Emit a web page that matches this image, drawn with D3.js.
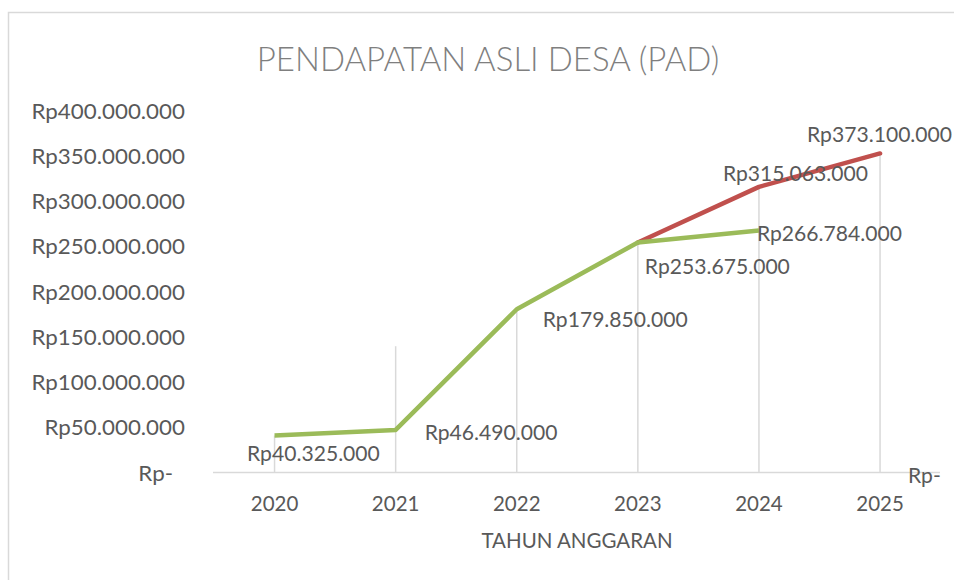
<!DOCTYPE html>
<html>
<head>
<meta charset="utf-8">
<script src="https://cdn.jsdelivr.net/npm/d3@7"></script>
<style>
  html, body { margin: 0; padding: 0; background: #fff; }
  svg { display: block; }
  text { font-family: Lato, "Open Sans", sans-serif; }
</style>
</head>
<body>
<svg id="chart" width="954" height="580"></svg>
<script>
// ---- data ----
const years = ["2020", "2021", "2022", "2023", "2024", "2025"];
const greenValues = [40325000, 46490000, 179850000, 253675000, 266784000, null];
const redValues = [null, null, null, 253675000, 315063000, 352000000];
const greenLabels = ["Rp40.325.000", "Rp46.490.000", "Rp179.850.000", "Rp253.675.000", "Rp266.784.000", null];
const redLabels = [null, null, null, null, "Rp315.063.000", "Rp373.100.000"];
const dropTops = [40325000, 139000000, 179850000, 253675000, 315063000, 352000000];
const yTicks = [0, 50000000, 100000000, 150000000, 200000000, 250000000, 300000000, 350000000, 400000000];
const yTickLabels = ["Rp-", "Rp50.000.000", "Rp100.000.000", "Rp150.000.000", "Rp200.000.000", "Rp250.000.000", "Rp300.000.000", "Rp350.000.000", "Rp400.000.000"];
const zeroLabel = "Rp-";
const titleText = "PENDAPATAN ASLI DESA (PAD)";
const xTitle = "TAHUN ANGGARAN";

// ---- layout / style ----
const SX = 1.03;            // horizontal stretch of small text
const FS = 20.5;
const textColor = "#595959";
const gridColor = "#d9d9d9";
const greenColor = "#9bbb59";
const redColor = "#c0504d";
// label offsets (left edge dx, center dy) relative to point
const greenOffsets = [[-27.5, 17.5], [29, 2], [26, 9], [7, 23.5], [-2, 2.5], null];
const redOffsets = [null, null, null, null, [-36, -14], [-73, -20]];

const svg = d3.select("#chart");

const x = d3.scaleBand().domain(years).range([214, 940.6]);
const y = d3.scaleLinear().domain([0, 400000000]).range([472, 110]);
const cx = d => x(d) + x.bandwidth() / 2;

function stext(g, str, px, py, anchor, opts = {}) {
  const t = g.append("text")
    .attr("transform", `translate(${px},${py}) scale(${opts.sx || SX},1)`)
    .attr("text-anchor", anchor)
    .attr("dominant-baseline", "central")
    .attr("font-size", opts.fs || FS)
    .attr("fill", opts.fill || textColor)
    .text(str);
  if (opts.weight) t.attr("font-weight", opts.weight);
  return t;
}

// chart border
svg.append("path")
  .attr("d", "M8.5,580 V12.5 H954")
  .attr("fill", "none")
  .attr("stroke", gridColor)
  .attr("stroke-width", 1.5);

// title
svg.append("text")
  .attr("x", 488).attr("y", 58)
  .attr("text-anchor", "middle")
  .attr("dominant-baseline", "central")
  .attr("font-size", 33)
  .attr("font-weight", 300)
  .attr("fill", "#7f7f7f")
  .text(titleText);

// drop lines
svg.append("g").selectAll("line")
  .data(years)
  .join("line")
  .attr("x1", d => cx(d)).attr("x2", d => cx(d))
  .attr("y1", (d, i) => y(dropTops[i])).attr("y2", y(0))
  .attr("stroke", gridColor).attr("stroke-width", 1.5);

// x axis line
const xAxis = d3.axisBottom(x).tickSize(0).tickFormat("");
const gx = svg.append("g").attr("transform", `translate(0,${y(0)})`).call(xAxis);
gx.select(".domain").attr("stroke", gridColor).attr("stroke-width", 1.5).attr("d", "M213,0.5H940");

// x tick labels
const gxl = svg.append("g");
years.forEach(d => stext(gxl, d, cx(d), 503, "middle", { sx: 1 }));
stext(gxl, xTitle, 577, 540, "middle", { sx: 1 });

// y axis labels
const yAxis = d3.axisLeft(y).tickValues(yTicks).tickSize(0).tickFormat("");
const gy = svg.append("g").attr("transform", "translate(214,0)").call(yAxis);
gy.select(".domain").remove();
const gyl = svg.append("g");
yTicks.forEach((v, i) => {
  const px = v === 0 ? 173 : 185;
  stext(gyl, yTickLabels[i], px, y(v) + 1, "end", { sx: 1.09 });
});

// lines
const line = d3.line()
  .defined(d => d.v !== null)
  .x(d => cx(d.year))
  .y(d => y(d.v));

svg.append("path")
  .datum(years.map((yr, i) => ({ year: yr, v: redValues[i] })))
  .attr("d", line)
  .attr("fill", "none")
  .attr("stroke", redColor)
  .attr("stroke-width", 4.5)
  .attr("stroke-linejoin", "round")
  .attr("stroke-linecap", "round");

svg.append("path")
  .datum(years.map((yr, i) => ({ year: yr, v: greenValues[i] })))
  .attr("d", line)
  .attr("fill", "none")
  .attr("stroke", greenColor)
  .attr("stroke-width", 4.5)
  .attr("stroke-linejoin", "round")
  .attr("stroke-linecap", "butt");

// data labels
const gl = svg.append("g");
years.forEach((yr, i) => {
  if (greenLabels[i]) {
    const o = greenOffsets[i];
    stext(gl, greenLabels[i], cx(yr) + o[0], y(greenValues[i]) + o[1], "start");
  }
  if (redLabels[i]) {
    const o = redOffsets[i];
    stext(gl, redLabels[i], cx(yr) + o[0], y(redValues[i]) + o[1], "start");
  }
});
stext(gl, zeroLabel, cx("2025") + 28, y(0) + 3, "start");
</script>
</body>
</html>
